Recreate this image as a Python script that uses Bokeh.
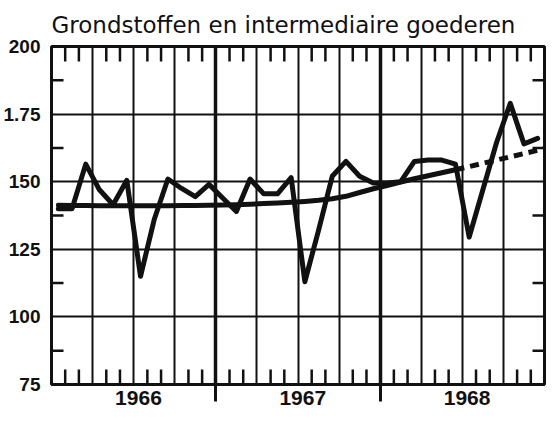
from bokeh.plotting import figure
from bokeh.models import FixedTicker, Grid, Range1d
from bokeh.embed import file_html
from bokeh.resources import INLINE

# ---------------- data ----------------
title_text = "Grondstoffen en intermediaire goederen"
years = ["1966", "1967", "1968"]
y_ticks = [75, 100, 125, 150, 175, 200]
y_tick_labels = ["75", "100", "125", "150", "1.75", "200"]

# monthly index, Jan 1966 .. Dec 1968
monthly_1966 = [140, 140, 156.5, 147, 141.5, 150.5, 115, 136, 151, 147.5, 144.5, 149]
monthly_1967 = [144, 139, 151, 145.5, 145.5, 151.5, 113, 132, 152, 157.5, 152, 149.5]
monthly_1968 = [149.5, 150, 157.5, 158, 158, 156.5, 129.5, 147, 164.5, 179, 164, 166]

# trend (solid part: Jan 1966 .. Jun 1968)
trend_solid = [141.3, 141.2, 141.2, 141.1, 141.1, 141.1, 141.1, 141.1, 141.1, 141.2, 141.2, 141.3,
               141.4, 141.5, 141.7, 141.9, 142.1, 142.4, 142.7, 143.1, 143.7, 144.6, 146.0, 147.4,
               148.6, 149.9, 151.1, 152.2, 153.3, 154.4]
# trend (dashed extrapolation: Jun 1968 .. end of 1968)
trend_dashed = [154.4, 155.6, 156.8, 158.0, 159.2, 160.4, 161.6, 162.2]
trend_dashed_month = [29.5, 30.5, 31.5, 32.5, 33.5, 34.5, 35.5, 36.0]

# ---------------- derived positions ----------------
monthly = monthly_1966 + monthly_1967 + monthly_1968
n_months = len(monthly)
x_month = [i + 0.5 for i in range(n_months)]
x_trend = [i + 0.5 for i in range(len(trend_solid))]
year_bounds = [12 * k for k in range(1, len(years))]
quarter_bounds = [m for m in range(3, n_months, 3) if m % 12 != 0]
month_bounds = [m for m in range(1, n_months) if m % 3 != 0]
year_centers = [12 * k + 6.35 for k in range(len(years))]
y_minor = [87.5, 112.5, 137.5, 162.5, 187.5]

FW, FH = 493, 338
XMIN, XMAX, YMIN, YMAX = 0, n_months, 75, 200
px_x = (XMAX - XMIN) / FW
px_y = (YMAX - YMIN) / FH

INK = "#111111"

p = figure(frame_width=FW, frame_height=FH, output_backend="svg", toolbar_location=None,
           x_range=Range1d(XMIN, XMAX), y_range=Range1d(YMIN, YMAX),
           min_border_left=0, min_border_right=2, min_border_top=0, min_border_bottom=0,
           background_fill_color="white", border_fill_color="white",
           title=title_text)
p.outline_line_color = INK
p.outline_line_width = 3

# title
p.title.text_font = "DejaVu Sans"
p.title.text_font_style = "normal"
p.title.text_font_size = "23px"
p.title.text_color = INK
p.title.align = "left"
p.title.offset = 0
p.title.standoff = 18

# y axis
p.yaxis.ticker = FixedTicker(ticks=y_ticks, minor_ticks=[])
p.yaxis.major_label_overrides = {t: l for t, l in zip(y_ticks, y_tick_labels)}
p.yaxis.axis_line_color = None
p.yaxis.major_tick_line_color = None
p.yaxis.minor_tick_line_color = None
p.yaxis.major_tick_out = 0
p.yaxis.minor_tick_out = 0
p.yaxis.major_label_standoff = 11
p.yaxis.major_label_text_font = "Liberation Sans"
p.yaxis.major_label_text_font_style = "bold"
p.yaxis.major_label_text_font_size = "19px"
p.yaxis.major_label_text_color = INK

# x axis: year labels + outward year-boundary ticks
p.xaxis.ticker = FixedTicker(ticks=year_centers, minor_ticks=year_bounds)
p.xaxis.major_label_overrides = {t: l for t, l in zip(year_centers, years)}
p.xaxis.axis_line_color = None
p.xaxis.major_tick_in = 0
p.xaxis.major_tick_out = 0
p.xaxis.major_tick_line_color = None
p.xaxis.minor_tick_in = 0
p.xaxis.minor_tick_out = 17
p.xaxis.minor_tick_line_color = INK
p.xaxis.minor_tick_line_width = 3
p.xaxis.major_label_standoff = -11
p.xaxis.major_label_text_font = "Liberation Sans"
p.xaxis.major_label_text_font_style = "bold"
p.xaxis.major_label_text_font_size = "21px"
p.xaxis.major_label_text_color = INK

# grids
p.ygrid.ticker = FixedTicker(ticks=[100, 125, 150, 175])
p.ygrid.grid_line_color = INK
p.ygrid.grid_line_width = 2
p.xgrid.ticker = FixedTicker(ticks=quarter_bounds)
p.xgrid.grid_line_color = INK
p.xgrid.grid_line_width = 2
p.add_layout(Grid(dimension=0, ticker=FixedTicker(ticks=year_bounds),
                  grid_line_color=INK, grid_line_width=3.5))

# inward month ticks (top and bottom)
tl_y = 15 * px_y
p.segment(x0=month_bounds, y0=[YMAX] * len(month_bounds),
          x1=month_bounds, y1=[YMAX - tl_y] * len(month_bounds), line_color=INK, line_width=2.5)
p.segment(x0=month_bounds, y0=[YMIN] * len(month_bounds),
          x1=month_bounds, y1=[YMIN + tl_y] * len(month_bounds), line_color=INK, line_width=2.5)
# inward minor ticks (left and right)
tl_x = 12 * px_x
p.segment(x0=[XMIN] * len(y_minor), y0=y_minor, x1=[XMIN + tl_x] * len(y_minor), y1=y_minor,
          line_color=INK, line_width=2.5)
p.segment(x0=[XMAX] * len(y_minor), y0=y_minor, x1=[XMAX - tl_x] * len(y_minor), y1=y_minor,
          line_color=INK, line_width=2.5)

# series
p.line(x_trend, trend_solid, line_color=INK, line_width=5, line_join="round", line_cap="round")
p.line(trend_dashed_month, trend_dashed, line_color=INK, line_width=5, line_dash="9 6")
p.line(x_month, monthly, line_color=INK, line_width=5, line_join="round", line_cap="round")

open("out.html", "w").write(file_html(p, INLINE))
